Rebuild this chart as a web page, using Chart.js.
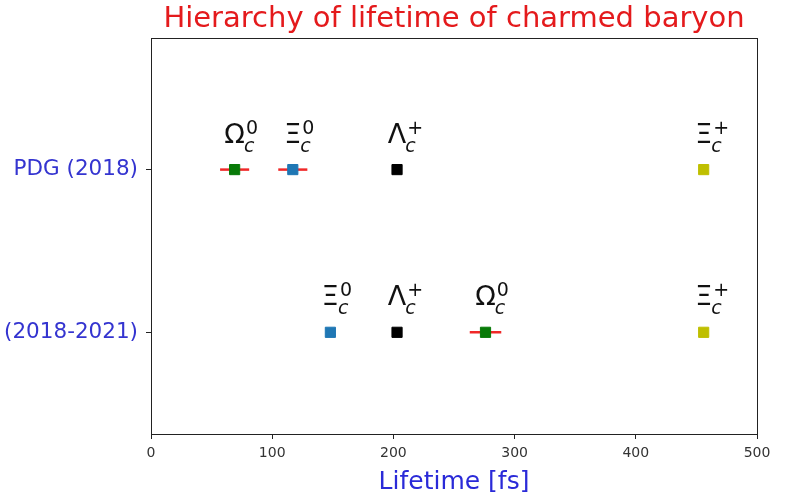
<!DOCTYPE html>
<html><head><meta charset="utf-8">
<script src="https://cdn.jsdelivr.net/npm/chart.js@4/dist/chart.umd.min.js"></script>
<style>html,body{margin:0;padding:0;background:#fff}#wrap{width:785px;height:497px;position:relative}</style>
</head><body><div id="wrap"><canvas id="c" width="785" height="497"></canvas></div>
<script>
// ---- data ----
const rowLabels = ['PDG (2018)', '(2018-2021)'];
const rowPositions = [1, 0];
const particleSymbols = ['Ω', 'Ξ', 'Λ', 'Ξ'];
const particleSup = ['0', '0', '+', '+'];
const particleSub = ['c', 'c', 'c', 'c'];
const particleColors = ['#087a08', '#1f77b4', '#000000', '#bfbf00'];
const pdgLifetime = [69, 117, 203, 456];
const pdgError = [12, 12, 0, 0];
const newLifetime = [276, 148, 203, 456];
const newError = [13, 0, 0, 0];
const xTicks = [0, 100, 200, 300, 400, 500];

const FONT = "'DejaVu Sans', sans-serif";

const datasets = particleSymbols.map((s, i) => ({
  label: s + particleSub[i] + particleSup[i],
  data: [
    {x: pdgLifetime[i], y: rowPositions[0], err: pdgError[i]},
    {x: newLifetime[i], y: rowPositions[1], err: newError[i]}
  ],
  pointStyle: 'rect',
  pointRadius: 7.2,
  pointBorderWidth: 1,
  backgroundColor: particleColors[i],
  borderColor: particleColors[i],
  showLine: false
}));

const errorBars = {
  id: 'errorBars',
  beforeDatasetsDraw(chart) {
    const ctx = chart.ctx, xs = chart.scales.x, ys = chart.scales.y;
    ctx.save();
    ctx.strokeStyle = '#f02828';
    ctx.lineWidth = 2.5;
    chart.data.datasets.forEach(ds => ds.data.forEach(p => {
      if (!p.err) return;
      const y = ys.getPixelForValue(p.y);
      ctx.beginPath();
      ctx.moveTo(xs.getPixelForValue(p.x - p.err), y);
      ctx.lineTo(xs.getPixelForValue(p.x + p.err), y);
      ctx.stroke();
    }));
    ctx.restore();
  }
};

const particleLabels = {
  id: 'particleLabels',
  afterDatasetsDraw(chart) {
    const ctx = chart.ctx, xs = chart.scales.x, ys = chart.scales.y;
    ctx.save();
    ctx.fillStyle = '#111';
    ctx.textBaseline = 'alphabetic';
    ctx.textAlign = 'left';
    chart.data.datasets.forEach((ds, i) => ds.data.forEach(p => {
      const px = xs.getPixelForValue(p.x), py = ys.getPixelForValue(p.y);
      ctx.font = '27px ' + FONT;
      const w = ctx.measureText(particleSymbols[i]).width;
      const x0 = px - w / 2, base = py - 27;
      ctx.fillText(particleSymbols[i], x0, base);
      ctx.font = '19px ' + FONT;
      ctx.fillText(particleSup[i], x0 + w + 1, base - 9);
      ctx.font = 'italic 19px ' + FONT;
      ctx.fillText(particleSub[i], x0 + w - 1, base + 9);
    }));
    ctx.restore();
  }
};

const frame = {
  id: 'frame',
  afterDraw(chart) {
    const {left, top, right, bottom} = chart.chartArea;
    const ctx = chart.ctx;
    ctx.save();
    ctx.strokeStyle = '#222';
    ctx.lineWidth = 1;
    ctx.strokeRect(Math.round(left) + 0.5, Math.round(top) + 0.5, Math.round(right - left), Math.round(bottom - top));
    ctx.restore();
  }
};

new Chart(document.getElementById('c'), {
  type: 'scatter',
  data: {datasets},
  options: {
    responsive: false,
    animation: false,
    layout: {padding: {left: 0, right: 28, top: 0, bottom: 0}},
    plugins: {
      legend: {display: false},
      tooltip: {enabled: false},
      title: {
        display: true,
        text: 'Hierarchy of lifetime of charmed baryon',
        color: '#e41a1c',
        fullSize: false,
        font: {family: FONT, size: 29, weight: 'normal'},
        padding: {top: 2, bottom: 1}
      }
    },
    scales: {
      x: {
        type: 'linear', min: 0, max: 500,
        afterFit(s) { s.height = 63; },
        afterBuildTicks(s) { s.ticks = xTicks.map(v => ({value: v})); },
        grid: {drawOnChartArea: false, drawTicks: true, tickLength: 5, color: '#222'},
        border: {display: false},
        ticks: {color: '#333', font: {family: FONT, size: 14}, padding: 6, maxRotation: 0},
        title: {display: true, text: 'Lifetime [fs]', color: '#2a2ad8', font: {family: FONT, size: 25}, padding: {top: 0, bottom: 0}}
      },
      y: {
        type: 'linear', min: -0.625, max: 1.81,
        afterFit(s) { s.width = 151; },
        afterBuildTicks(s) { s.ticks = rowPositions.map(v => ({value: v})); },
        grid: {drawOnChartArea: false, drawTicks: true, tickLength: 5, color: '#222'},
        border: {display: false},
        ticks: {color: '#3434d0', font: {family: FONT, size: 21.5}, padding: 8,
          callback: v => rowLabels[rowPositions.indexOf(v)] ?? ''}
      }
    }
  },
  plugins: [errorBars, particleLabels, frame]
});
</script></body></html>
